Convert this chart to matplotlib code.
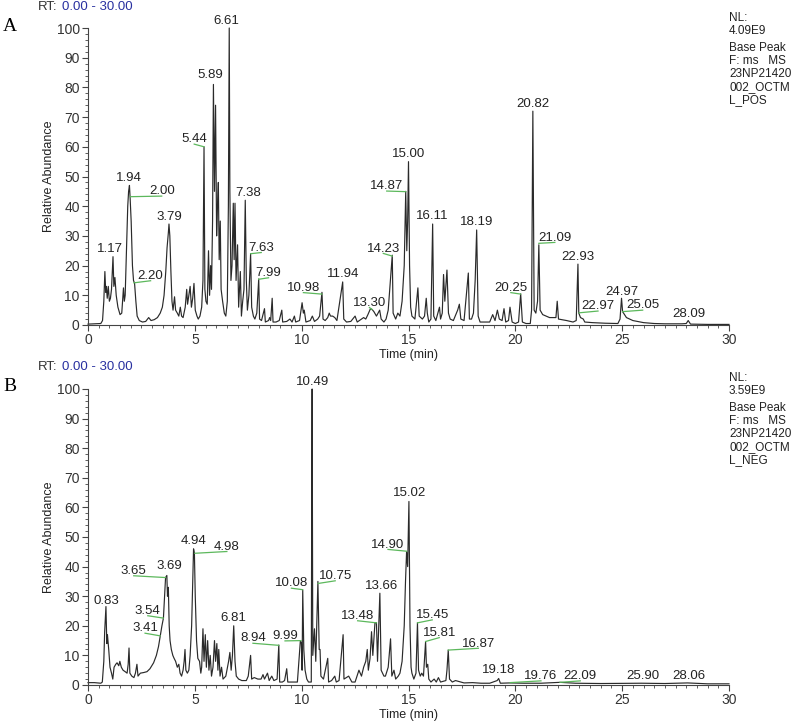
import numpy as np
import matplotlib.pyplot as plt
from matplotlib.ticker import MultipleLocator

plt.rcParams['font.family'] = ['Liberation Sans', 'DejaVu Sans']

# ---- trace A (positive mode): time (min), relative abundance
pos_time = [0.00, 0.30, 0.60, 0.68, 0.74, 0.79, 0.83, 0.86, 0.90, 0.95, 1.00, 1.05, 1.10, 1.17,
            1.21, 1.26, 1.32, 1.40, 1.50, 1.58, 1.62, 1.66, 1.70, 1.74, 1.80, 1.86, 1.90, 1.94,
            1.97, 2.02, 2.08, 2.13, 2.18, 2.24, 2.30, 2.40, 2.55, 2.70, 2.84, 2.95, 3.10, 3.25,
            3.38, 3.48, 3.56, 3.64, 3.70, 3.76, 3.79, 3.83, 3.88, 3.93, 3.98, 4.05, 4.10, 4.18,
            4.25, 4.32, 4.38, 4.45, 4.55, 4.62, 4.66, 4.72, 4.78, 4.84, 4.90, 4.96, 5.02, 5.10,
            5.16, 5.24, 5.32, 5.38, 5.43, 5.47, 5.52, 5.58, 5.64, 5.69, 5.74, 5.78, 5.83, 5.87,
            5.92, 5.97, 6.02, 6.06, 6.10, 6.14, 6.19, 6.23, 6.30, 6.38, 6.45, 6.52, 6.57, 6.61,
            6.64, 6.69, 6.74, 6.80, 6.84, 6.88, 6.93, 7.00, 7.05, 7.13, 7.18, 7.24, 7.30, 7.36,
            7.41, 7.46, 7.53, 7.61, 7.66, 7.74, 7.81, 7.90, 7.99, 8.03, 8.12, 8.26, 8.30, 8.45,
            8.50, 8.55, 8.62, 8.66, 8.80, 8.95, 9.07, 9.11, 9.30, 9.45, 9.55, 9.66, 9.72, 9.90,
            10.02, 10.08, 10.12, 10.20, 10.40, 10.50, 10.60, 10.75, 10.84, 10.95, 11.00, 11.10,
            11.22, 11.29, 11.35, 11.45, 11.55, 11.65, 11.92, 11.97, 12.10, 12.30, 12.50, 12.60,
            12.80, 12.90, 13.00, 13.10, 13.22, 13.30, 13.38, 13.50, 13.65, 13.72, 13.85, 13.95,
            14.05, 14.24, 14.28, 14.40, 14.50, 14.60, 14.70, 14.80, 14.87, 14.92, 14.96, 15.00,
            15.05, 15.10, 15.16, 15.30, 15.44, 15.50, 15.65, 15.75, 15.83, 15.88, 15.95, 16.05,
            16.13, 16.18, 16.28, 16.45, 16.50, 16.58, 16.64, 16.70, 16.80, 16.87, 16.95, 17.10,
            17.30, 17.38, 17.45, 17.60, 17.80, 17.85, 17.95, 18.04, 18.12, 18.19, 18.26, 18.35,
            18.60, 18.80, 18.94, 19.05, 19.16, 19.25, 19.38, 19.47, 19.55, 19.68, 19.75, 19.85,
            20.00, 20.15, 20.25, 20.33, 20.50, 20.70, 20.76, 20.82, 20.88, 20.96, 21.04, 21.10,
            21.16, 21.28, 21.60, 21.90, 21.96, 22.02, 22.40, 22.70, 22.85, 22.93, 22.97, 23.05,
            23.18, 23.25, 23.60, 24.20, 24.80, 24.90, 24.97, 25.02, 25.20, 25.50, 26.00, 26.50,
            27.00, 27.80, 28.00, 28.09, 28.20, 29.00, 30.00]
pos_abund = [0.3, 0.4, 0.5, 1.5, 8, 18, 11, 13, 9, 13, 8, 9, 12, 23,
             13, 16, 10, 6, 3.5, 4, 8, 12.5, 8, 10, 25, 40, 45, 47,
             43, 35, 20, 15, 14, 8, 3, 1.5, 1, 1.2, 2.5, 1.5, 1.8, 2.5,
             4, 6, 10, 18, 26, 31, 34, 30, 18, 8, 5, 9.5, 5, 4,
             3, 6, 3, 2.5, 6, 12, 7, 10, 13, 6, 9, 14, 5, 3,
             2, 3, 6, 15, 60, 12, 8, 7, 25, 10, 20, 12, 35, 81,
             45, 74, 30, 40, 48, 22, 35, 12, 8, 4, 3, 8, 40, 100,
             45, 15, 20, 41, 22, 41, 15, 27, 6, 18, 3, 8, 12, 42,
             15, 5, 10, 24, 6, 3, 2, 4, 15.5, 2, 1.5, 5.5, 1, 1.5,
             2.5, 1.5, 9, 1, 1, 1.5, 5, 1, 1.2, 2, 1, 3, 1, 1.5,
             7.5, 4, 5, 1, 1.5, 3, 1.2, 2, 3, 11, 2, 1.5,
             2.5, 4, 3, 3, 2.5, 1.5, 14.5, 2, 1, 1.2, 3, 1,
             2, 2.5, 2, 3.5, 5.5, 5.2, 4.5, 3, 5, 2, 1, 2,
             5, 23.5, 4, 2, 4, 3, 8, 20, 45, 25, 35, 55,
             20, 6, 3, 2, 12.5, 3, 2, 3, 9, 4, 1, 2,
             34, 3, 1.5, 6, 2, 4, 17, 8, 18.5, 4, 2, 1.5,
             5, 7, 2, 1.5, 17.5, 2, 2, 4, 15, 32, 3, 1,
             1, 1, 3.5, 1.5, 5, 2, 1.5, 5.5, 1, 1.5, 6, 1,
             0.5, 1, 10.5, 1, 0.5, 0.5, 5, 72, 5, 4, 8, 27,
             5, 3.5, 2.5, 2.5, 8, 2, 1.5, 1, 1.5, 20.5, 4, 2.5,
             2, 1, 0.8, 0.6, 0.5, 2, 9, 4.5, 2.5, 1.5, 0.8, 0.5,
             0.4, 0.4, 0.5, 1.5, 0.3, 0.2, 0.2]

# ---- trace B (negative mode)
neg_time = [0.00, 0.30, 0.60, 0.67, 0.74, 0.78, 0.84, 0.88, 0.91, 0.97, 1.03, 1.10, 1.16, 1.22,
            1.30, 1.36, 1.44, 1.49, 1.56, 1.64, 1.74, 1.83, 1.88, 1.92, 1.96, 2.05, 2.15, 2.22,
            2.29, 2.34, 2.45, 2.60, 2.76, 2.90, 3.07, 3.20, 3.30, 3.38, 3.46, 3.53, 3.57, 3.63,
            3.69, 3.72, 3.76, 3.80, 3.84, 3.90, 3.97, 4.03, 4.10, 4.18, 4.25, 4.31, 4.38, 4.45,
            4.50, 4.54, 4.58, 4.65, 4.72, 4.78, 4.85, 4.90, 4.94, 4.98, 5.02, 5.08, 5.14, 5.22,
            5.28, 5.32, 5.38, 5.43, 5.49, 5.54, 5.60, 5.66, 5.72, 5.78, 5.85, 5.92, 5.97, 6.03,
            6.08, 6.12, 6.18, 6.25, 6.32, 6.45, 6.58, 6.64, 6.70, 6.76, 6.82, 6.88, 6.94, 7.05,
            7.20, 7.41, 7.50, 7.61, 7.66, 7.78, 7.95, 8.10, 8.19, 8.26, 8.40, 8.48, 8.60, 8.70,
            8.85, 8.93, 8.97, 9.10, 9.20, 9.30, 9.35, 9.55, 9.80, 9.94, 9.99, 10.02, 10.05, 10.10,
            10.16, 10.24, 10.32, 10.45, 10.47, 10.49, 10.52, 10.60, 10.66, 10.76, 10.82, 10.86,
            10.90, 11.02, 11.22, 11.26, 11.40, 11.55, 11.62, 11.75, 11.94, 11.98, 12.20, 12.35,
            12.50, 12.68, 12.80, 12.90, 13.00, 13.07, 13.12, 13.20, 13.27, 13.33, 13.43, 13.50,
            13.55, 13.66, 13.72, 13.85, 13.92, 14.05, 14.16, 14.22, 14.32, 14.40, 14.52, 14.60,
            14.70, 14.80, 14.86, 14.91, 14.96, 15.02, 15.07, 15.12, 15.16, 15.25, 15.35, 15.42,
            15.47, 15.55, 15.62, 15.70, 15.80, 15.84, 15.90, 15.95, 16.05, 16.20, 16.30, 16.40,
            16.50, 16.75, 16.80, 16.86, 16.92, 17.05, 17.20, 17.35, 17.60, 18.00, 18.40, 18.80,
            19.15, 19.22, 19.30, 19.75, 20.40, 21.20, 22.09, 22.80, 24.00, 25.90, 27.00, 28.06,
            29.00, 30.00]
neg_abund = [0.8, 0.8, 0.6, 1, 8, 18, 26.5, 14, 17, 12, 6, 4, 2, 6,
             7, 7.5, 6.5, 8, 6, 5, 4.5, 4, 7, 12.5, 4, 3, 2.5, 4,
             7, 3, 4, 4.2, 4.5, 5.5, 7.5, 10, 13, 16.6, 20, 22.6, 28, 36.3,
             37, 30, 33, 20, 15, 12, 10, 9, 8, 6, 7, 4, 3, 5,
             8, 12, 5, 4, 5, 10, 20, 35, 46, 44.5, 30, 15, 9, 8,
             4, 6, 19, 8, 17, 6, 15, 5, 10, 3, 6, 15, 8, 14,
             5, 12, 3, 6, 2, 3, 8, 11, 5, 10, 20, 8, 3, 2,
             1.5, 1.5, 3, 10, 2, 2.5, 2, 2, 3.5, 2, 4, 1.5, 3, 1.5,
             2, 13.5, 1, 1, 1.5, 5.5, 1, 1, 1, 15, 14, 5, 32, 12,
             5, 2, 1, 1, 60, 100, 10, 19, 8, 35, 12, 12,
             3, 2, 9, 1, 1.5, 3, 1, 1.5, 17, 2, 3, 1,
             1, 5, 3, 6, 8, 12, 5, 9, 18, 10, 21, 21,
             8, 31, 5, 3, 3, 6, 15.6, 3, 5, 2, 3, 4,
             8, 20, 35, 45, 40, 62, 20, 6, 4, 2, 4, 21,
             5, 3, 4, 3, 14.7, 6, 7, 2, 1, 2, 1, 2.5,
             1, 1.5, 5, 11.8, 2, 1, 1.5, 1.2, 0.7, 0.8, 0.6, 0.6,
             1.5, 2.2, 0.6, 0.7, 0.6, 0.6, 0.9, 0.6, 0.5, 0.6, 0.5, 0.7,
             0.4, 0.4]

# peak labels: text, label x, label y, leader end (rt, abundance) or None
pos_labels = [("1.17", 1.03, 24.5, None), ("1.94", 1.90, 48.5, None),
              ("2.00", 3.45, 44.0, (1.97, 43.2)), ("2.20", 2.93, 15.5, (2.15, 14.2)),
              ("3.79", 3.79, 35.5, None), ("5.44", 4.97, 61.5, (5.43, 60.0)),
              ("5.89", 5.73, 83.0, None), ("6.61", 6.47, 101.5, None),
              ("7.38", 7.52, 43.5, None), ("7.63", 8.11, 25.0, (7.61, 24.0)),
              ("7.99", 8.45, 16.5, (7.99, 15.4)), ("10.98", 10.08, 11.5, (10.95, 10.4)),
              ("11.94", 11.95, 16.0, None), ("13.30", 13.17, 6.5, (13.30, 5.2)),
              ("14.23", 13.82, 24.7, (14.24, 23.2)), ("14.87", 13.98, 45.7, (14.87, 44.9)),
              ("15.00", 15.02, 56.5, None), ("16.11", 16.12, 35.6, None),
              ("18.19", 18.21, 33.7, None), ("20.25", 19.79, 11.5, (20.25, 10.4)),
              ("20.82", 20.82, 73.5, None), ("21.09", 21.85, 28.4, (21.10, 27.5)),
              ("22.93", 22.93, 22.0, None), ("22.97", 23.87, 5.3, (22.98, 4.1)),
              ("24.97", 24.97, 10.2, None), ("25.05", 25.96, 5.6, (25.02, 4.5)),
              ("28.09", 28.11, 2.8, None)]
neg_labels = [("0.83", 0.86, 27.5, None), ("3.65", 2.14, 37.5, (3.63, 36.3)),
              ("3.69", 3.81, 39.2, None), ("3.54", 2.80, 24.0, (3.53, 22.6)),
              ("3.41", 2.67, 18.1, (3.38, 16.6)), ("4.94", 4.95, 47.8, None),
              ("4.98", 6.50, 45.7, (5.00, 44.5)), ("6.81", 6.81, 21.5, None),
              ("8.94", 7.72, 14.7, (8.93, 13.4)), ("9.99", 9.22, 15.5, (9.97, 15.0)),
              ("10.08", 9.52, 33.3, (10.05, 32.2)), ("10.49", 10.52, 101.5, None),
              ("10.75", 11.57, 35.8, (10.77, 34.3)), ("13.48", 12.62, 22.3, (13.50, 21.0)),
              ("13.66", 13.73, 32.4, None), ("14.90", 14.04, 46.4, (14.91, 45.2)),
              ("15.02", 15.07, 63.7, None), ("15.45", 16.11, 22.6, (15.42, 21.0)),
              ("15.81", 16.44, 16.6, (15.80, 14.7)), ("16.87", 18.27, 13.0, (16.86, 11.8)),
              ("19.18", 19.23, 4.0, None), ("19.76", 21.20, 2.0, (19.75, 0.8)),
              ("22.09", 23.04, 2.0, (22.09, 0.9)), ("25.90", 25.96, 2.0, None),
              ("28.06", 28.11, 2.0, None)]

pos_info = "NL:\n4.09E9"
neg_info = "NL:\n3.59E9"
run_info_pos = "Base Peak\nF: ms   MS\n23NP21420\n002_OCTM\nL_POS"
run_info_neg = "Base Peak\nF: ms   MS\n23NP21420\n002_OCTM\nL_NEG"

W, H = 798, 726
fig = plt.figure(figsize=(W / 100, H / 100), dpi=100)
ax1 = fig.add_axes([88 / W, 401 / H, 641 / W, 297 / H])
ax2 = fig.add_axes([88 / W, 41 / H, 641 / W, 296 / H])

ink = '#2a2a2a'
green = '#5cb85c'


def draw_panel(ax, t, a, labels):
    ax.plot(t, a, color=ink, lw=0.85, clip_on=False)
    for txt, lx, ly, lead in labels:
        ax.text(lx, ly, txt, ha='center', va='baseline', fontsize=9.5, color='#222222')
        if lead is not None:
            ax.plot([lx, lead[0]], [ly - 0.6, lead[1]], color=green, lw=0.9, clip_on=False)
    ax.set_xlim(0, 30)
    ax.set_ylim(0, 100)
    for s in ['top', 'right']:
        ax.spines[s].set_visible(False)
    for s in ['left', 'bottom']:
        ax.spines[s].set_color('#444444')
        ax.spines[s].set_linewidth(0.8)
    ax.xaxis.set_major_locator(MultipleLocator(5))
    ax.xaxis.set_minor_locator(MultipleLocator(0.5))
    ax.yaxis.set_major_locator(MultipleLocator(10))
    ax.yaxis.set_minor_locator(MultipleLocator(2))
    ax.tick_params(which='major', length=4.5, width=0.8, color='#444444', labelsize=10,
                   labelcolor='#333333', pad=1.5)
    ax.tick_params(which='minor', length=2.5, width=0.6, color='#444444')
    ax.set_xlabel("Time (min)", fontsize=9, color='#222222', labelpad=0)
    ax.set_ylabel("Relative Abundance", fontsize=9, color='#222222')
    ax.yaxis.set_label_coords(-0.051, 0.5)
    ax.xaxis.set_label_coords(0.5, -0.08)


draw_panel(ax1, pos_time, pos_abund, pos_labels)
draw_panel(ax2, neg_time, neg_abund, neg_labels)

# header texts
for top, letter, nl, info in [(0, "A", pos_info, run_info_pos), (360, "B", neg_info, run_info_neg)]:
    fig.text(38 / W, 1 - (top + 1) / H, "RT:", fontsize=9.5, color='#333333', va='top')
    fig.text(62 / W, 1 - (top + 1) / H, "0.00 - 30.00", fontsize=9.5, color='#2830a0', va='top')
    fig.text(3 / W, 1 - (top + 18) / H, letter, fontsize=14, family='Liberation Serif',
             color='black', va='top')
    fig.text(729 / W, 1 - (top + 12) / H, nl, fontsize=8.5, color='#222222', va='top',
             linespacing=1.1)
    fig.text(729 / W, 1 - (top + 42) / H, info, fontsize=8.5, color='#222222', va='top',
             linespacing=1.1)

fig.savefig('out.png', dpi=100)
